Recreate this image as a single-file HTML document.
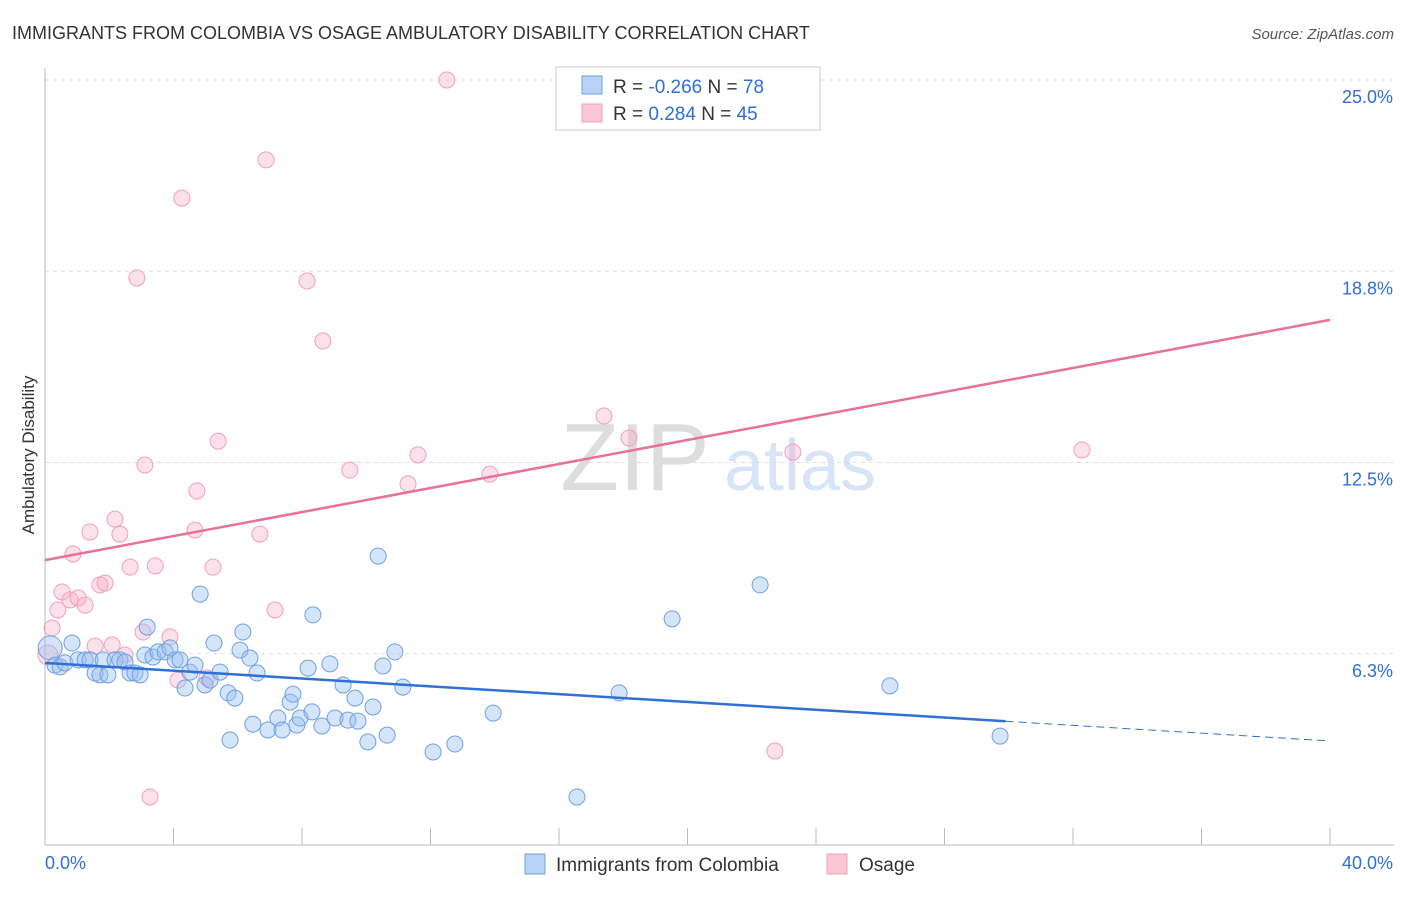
<!DOCTYPE html>
<html><head><meta charset="utf-8"><style>
body{margin:0;background:#fff;font-family:"Liberation Sans",sans-serif;}
svg text{font-family:"Liberation Sans",sans-serif;}
</style></head><body>
<svg id="c" width="1406" height="892">
<text x="12" y="39" font-size="18" fill="#333">IMMIGRANTS FROM COLOMBIA VS OSAGE AMBULATORY DISABILITY CORRELATION CHART</text>
<text x="1394" y="39" font-size="15" fill="#555" text-anchor="end" font-style="italic">Source: ZipAtlas.com</text>
<g><text x="635" y="490" font-size="96" fill="#ddd" text-anchor="middle" font-family="Liberation Serif">ZIP</text><text x="800" y="490" font-size="72" fill="#d6e4f5" text-anchor="middle">atlas</text></g>
<text x="34" y="455" font-size="17" fill="#333" text-anchor="middle" transform="rotate(-90 34 455)">Ambulatory Disability</text>
<g id="grid"></g><g id="marks"></g>
<g>
<rect x="556" y="67" width="264" height="63" fill="#fff" stroke="#ccc"/>
<rect x="582" y="76" width="20" height="18" fill="#b8d3f5" stroke="#6fa0e0"/>
<rect x="582" y="104" width="20" height="18" fill="#f9c6d6" stroke="#f0a0b8"/>
<text x="613" y="93" font-size="19" fill="#333">R = <tspan fill="#2f6fd6">-0.266</tspan>   N = <tspan fill="#2f6fd6">78</tspan></text>
<text x="613" y="120" font-size="19" fill="#333">R =  <tspan fill="#2f6fd6">0.284</tspan>   N = <tspan fill="#2f6fd6">45</tspan></text>
</g>
<g>
<rect x="525" y="854" width="20" height="20" fill="#b8d3f5" stroke="#6fa0e0"/>
<text x="556" y="871" font-size="19" fill="#333">Immigrants from Colombia</text>
<rect x="827" y="854" width="20" height="20" fill="#f9c6d6" stroke="#f0a0b8"/>
<text x="859" y="871" font-size="19" fill="#333">Osage</text>
</g>
</svg>
<script>
const xTicks=[0,4,8,12,16,20,24,28,32,36,40];
const yTicks=[6.25,12.5,18.75,25];
const yTickLabels=["6.3%","12.5%","18.8%","25.0%"];
const blueX=[0.16,0.31,0.47,0.62,0.84,1.03,1.25,1.40,1.56,1.71,1.81,1.96,2.18,2.33,2.49,2.65,2.80,2.96,3.11,3.18,3.36,3.52,3.74,3.89,4.05,4.20,4.36,4.51,4.67,4.83,4.98,5.14,5.26,5.45,5.70,5.76,5.91,6.07,6.16,6.38,6.47,6.60,6.94,7.25,7.38,7.63,7.72,7.84,7.94,8.19,8.31,8.34,8.62,8.87,9.03,9.28,9.43,9.65,9.74,10.05,10.21,10.37,10.52,10.65,10.89,11.14,12.08,12.76,13.95,16.56,17.87,19.52,22.26,26.30,29.73];
const blueY=[6.44,5.88,5.82,5.95,6.60,6.05,6.05,6.05,5.62,5.56,6.05,5.56,6.05,6.05,5.98,5.62,5.62,5.56,6.21,7.12,6.14,6.31,6.31,6.44,6.05,6.05,5.13,5.65,5.88,8.20,5.23,5.39,6.60,5.65,4.97,3.43,4.80,6.37,6.96,6.11,3.95,5.62,3.76,4.15,3.76,4.67,4.93,3.92,4.15,5.78,4.35,7.52,3.89,5.92,4.15,5.23,4.08,4.80,4.05,3.37,4.51,9.44,5.85,3.59,6.31,5.16,3.04,3.30,4.31,1.57,4.97,7.39,8.50,5.20,3.56];
const pinkX=[0.09,0.22,0.40,0.53,0.78,0.87,1.03,1.25,1.40,1.56,1.71,1.87,2.09,2.18,2.33,2.49,2.65,2.86,3.05,3.11,3.27,3.43,3.89,4.14,4.26,4.67,4.73,5.04,5.23,5.39,6.69,6.88,7.16,8.16,8.65,9.49,11.30,11.61,12.51,13.85,17.40,18.18,22.72,23.28,32.28];
const pinkY=[6.21,7.09,7.68,8.27,8.01,9.51,8.07,7.84,10.23,6.50,8.50,8.56,6.54,10.65,10.16,6.21,9.08,18.53,6.96,12.42,1.57,9.12,6.80,5.39,21.14,10.29,11.57,5.46,9.08,13.20,10.16,22.39,7.68,18.43,16.47,12.25,11.80,12.75,25.0,12.12,14.02,13.30,3.07,12.84,12.91];
const pinkTrend=[9.31,17.16];
const blueTrend=[5.95,3.40];
const blueSolidEnd=29.9;
const NS="http://www.w3.org/2000/svg";
const X=v=>45+v*32.125, Y=v=>845-v*30.6;
function mk(tag,attrs,parent){const e=document.createElementNS(NS,tag);for(const k in attrs)e.setAttribute(k,attrs[k]);parent.appendChild(e);return e;}
const grid=document.getElementById('grid'),marks=document.getElementById('marks');
yTicks.forEach((t,i)=>{
 const l=mk('line',{x1:45,x2:1394,y1:Y(t),y2:Y(t),stroke:'#ddd','stroke-dasharray':'4,4'},grid);
 
 
 const tx=mk('text',{x:1393,y:Y(t)+23,'font-size':18,fill:'#2f6fd6','text-anchor':'end'},grid);tx.textContent=yTickLabels[i];
 
 
});
const ax=mk('line',{x1:45,x2:45,y1:68,y2:845,stroke:'#bbb'},grid);


const bx=mk('line',{x1:45,x2:1394,y1:845,y2:845,stroke:'#bbb'},grid);


xTicks.forEach(t=>{const l=mk('line',{x1:X(t),x2:X(t),y1:828,y2:845,stroke:'#bbb'},grid);
 
 });
const xl0=mk('text',{x:45,y:869,'font-size':18,fill:'#2f6fd6'},grid);xl0.textContent=xTicks[0].toFixed(1)+'%';


const xl1=mk('text',{x:1393,y:869,'font-size':18,fill:'#2f6fd6','text-anchor':'end'},grid);xl1.textContent=xTicks[xTicks.length-1].toFixed(1)+'%';


pinkX.forEach((v,i)=>{const c=mk('circle',{cx:X(v),cy:Y(pinkY[i]),r:i==0?10:8,fill:'rgba(246,170,196,0.35)',stroke:'#f0a0b8','stroke-width':1},marks);
 
 });
blueX.forEach((v,i)=>{const c=mk('circle',{cx:X(v),cy:Y(blueY[i]),r:i==0?12:8,fill:'rgba(150,190,240,0.4)',stroke:'#6fa0e0','stroke-width':1},marks);
 
 });
const pl=mk('line',{x1:X(0),y1:Y(pinkTrend[0]),x2:X(40),y2:Y(pinkTrend[1]),stroke:'#e8709a','stroke-width':2.5},marks);


const by=v=>blueTrend[0]+(blueTrend[1]-blueTrend[0])*v/40;
const bl=mk('line',{x1:X(0),y1:Y(by(0)),x2:X(blueSolidEnd),y2:Y(by(blueSolidEnd)),stroke:'#2f6fd6','stroke-width':2.5},marks);


const bd=mk('line',{x1:X(blueSolidEnd),y1:Y(by(blueSolidEnd)),x2:X(40),y2:Y(by(40)),stroke:'#2f6fd6','stroke-width':1,'stroke-dasharray':'8,5'},marks);


</script>
</body></html>
